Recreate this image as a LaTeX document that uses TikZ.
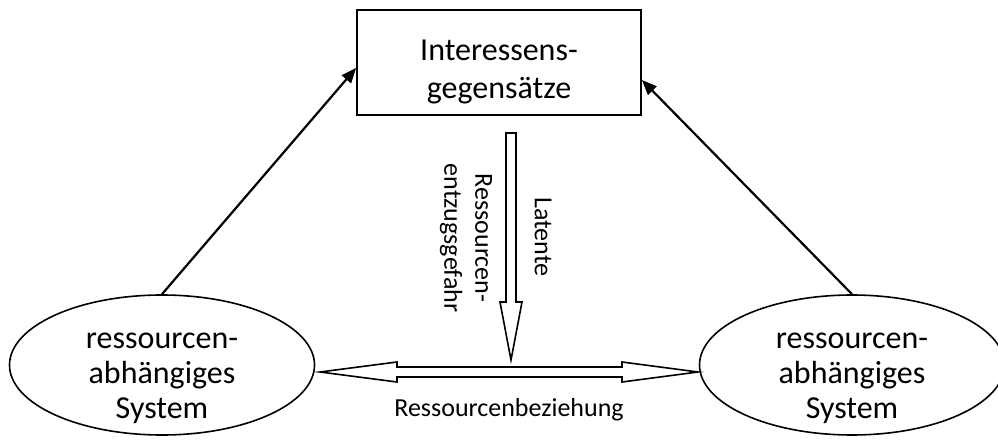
\documentclass[tikz,border=0pt]{standalone}
\usepackage{fontspec}
\setmainfont{Carlito}
\usetikzlibrary{arrows.meta,shapes.geometric}
\begin{document}
\begin{tikzpicture}[x=1pt,y=-1pt,
  big/.style={font=\fontsize{32}{35}\selectfont, align=center},
  small/.style={font=\fontsize{26}{31}\selectfont, align=center},
  sys/.style={draw, ellipse, line width=1.6pt, minimum width=305pt, minimum height=140pt, inner sep=0pt},
  link/.style={line width=2.2pt, -{Triangle[length=15pt,width=12pt]}},
  hollow/.style={draw, line width=1.6pt, fill=white, line join=miter}]
\useasboundingbox (0,0) rectangle (998,443);
\node[draw, line width=1.8pt, minimum width=284pt, minimum height=105pt] (box) at (499,62.5) {};
\node[big, font=\fontsize{32}{38}\selectfont] (boxt) at (499,72) {Interessens-\\gegensätze};
\node[sys] (lE) at (162,365) {};
\node[sys] (rE) at (852,365) {};
\node[big] (lEt) at (162,378) {ressourcen-\\abhängiges\\System};
\node[big] (rEt) at (852,378) {ressourcen-\\abhängiges\\System};
\draw[link] (lE.north) -- (box.west |- {(0,68)});
\draw[link] (rE.north) -- (box.east |- {(0,80)});
% vertical hollow arrow
\draw[hollow] (506,133) -- (516,133) -- (516,302) -- (522,302) -- (511,360) -- (500,302) -- (506,302) -- cycle;
% horizontal hollow double arrow
\draw[hollow] (320,372) -- (397,362) -- (397,367) -- (622,367) -- (622,362) -- (698,372) -- (622,382) -- (622,377) -- (397,377) -- (397,382) -- cycle;
\node[small, rotate=-90] (lat) at (543,237) {Latente};
\node[small, rotate=-90] (rg) at (466,238) {Ressourcen-\\entzugsgefahr};
\node[small] (rb) at (509,410) {Ressourcenbeziehung};
\end{tikzpicture}
\end{document}
